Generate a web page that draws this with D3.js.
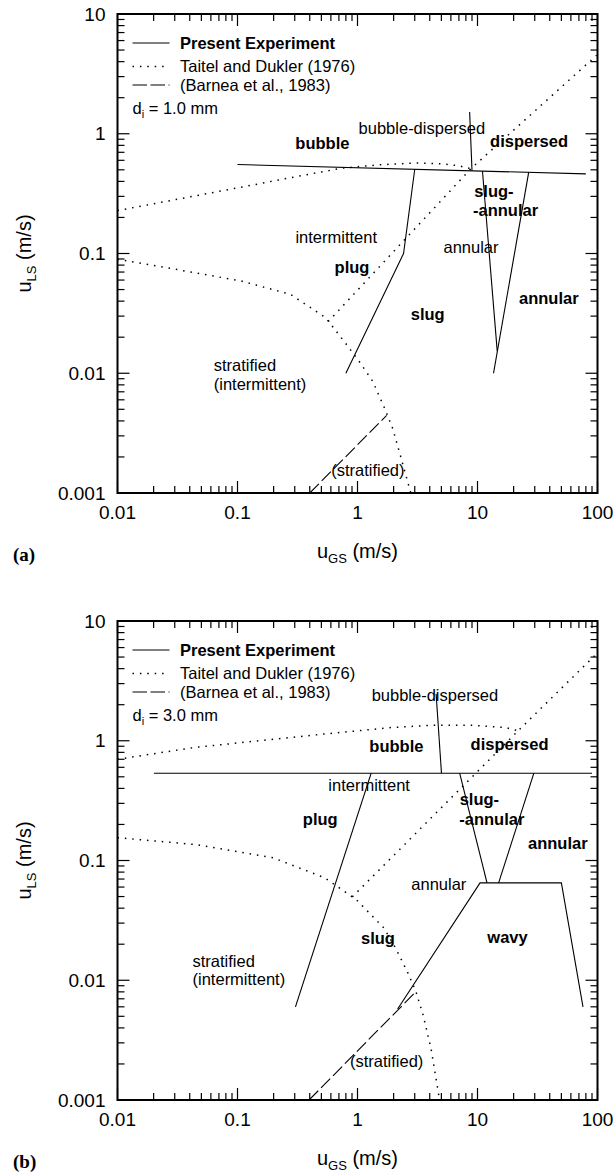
<!DOCTYPE html>
<html><head><meta charset="utf-8">
<script src="https://cdn.jsdelivr.net/npm/d3@7"></script>
<style>
body{margin:0;background:#fff}
svg{display:block}
text{font-family:"Liberation Sans",Arial,Helvetica,sans-serif;fill:#000}
</style>
</head><body>
<svg id="c" width="614" height="1174"></svg>
<script>
// ---------- shared tick labels / legend ----------
const xTickValues = [0.01, 0.1, 1, 10, 100];
const xTickLabels = ["0.01", "0.1", "1", "10", "100"];
const yTickValues = [0.001, 0.01, 0.1, 1, 10];
const yTickLabels = ["0.001", "0.01", "0.1", "1", "10"];
const legendItems = ["Present Experiment", "Taitel and Dukler (1976)", "(Barnea et al., 1983)"];
const panelTags = ["(a)", "(b)"];
const diameters = ["1.0", "3.0"];

// ---------- panel (a): d = 1.0 mm ----------
const presentA = [
  [[0.1, 0.553], [80, 0.462]],
  [[8.6, 1.52], [9.0, 0.492]],
  [[3.0, 0.505], [2.42, 0.1], [0.8, 0.01]],
  [[11.0, 0.488], [14.6, 0.0153]],
  [[26.7, 0.476], [13.6, 0.01]]
];
const taitelA = [
  [[0.01, 0.228], [0.03, 0.281], [0.1, 0.353], [0.3, 0.436], [0.73, 0.515], [1.5, 0.55], [3.08, 0.571], [5, 0.562], [7, 0.54], [8.8, 0.51]],
  [[0.57, 0.027], [8.8, 0.51], [98.5, 4.53]],
  [[0.01, 0.0897], [0.03, 0.074], [0.107, 0.059], [0.276, 0.0456], [0.543, 0.0291], [0.792, 0.0179], [1.03, 0.0126], [1.34, 0.00857], [1.68, 0.00512], [1.96, 0.00348], [2.27, 0.00208], [2.78, 0.001]]
];
const barneaA = [
  [[0.40, 0.001], [1.75, 0.00445]]
];
const labelsA = [
  ["bubble", 0.51, 0.835],
  ["bubble-dispersed", 3.44, 1.12],
  ["dispersed", 26.9, 0.868],
  ["slug-", 9.38, 0.331],
  ["-annular", 9.17, 0.228],
  ["intermittent", 0.665, 0.136],
  ["annular", 8.83, 0.112],
  ["plug", 0.90, 0.0773],
  ["annular ", 39.3, 0.0423],
  ["slug", 3.85, 0.0314],
  ["stratified", 0.0634, 0.0116],
  ["(intermittent)", 0.0634, 0.00814],
  ["(stratified)", 1.22, 0.00154]
];

// ---------- panel (b): d = 3.0 mm ----------
const presentB = [
  [[0.0201, 0.536], [90, 0.536]],
  [[4.52, 2.46], [5.01, 0.536]],
  [[1.30, 0.536], [0.304, 0.006]],
  [[7.10, 0.536], [12.0, 0.065]],
  [[29.5, 0.536], [15.0, 0.065]],
  [[2.16, 0.00575], [10.5, 0.065], [50, 0.065], [75.7, 0.006]]
];
const taitelB = [
  [[0.01, 0.70], [0.0445, 0.88], [0.2, 1.03], [0.535, 1.14], [1.93, 1.29], [4.42, 1.35], [8.7, 1.35], [17.1, 1.29], [21.8, 1.21]],
  [[0.905, 0.0497], [21.8, 1.21], [97, 5.26]],
  [[0.01, 0.155], [0.0445, 0.136], [0.2, 0.105], [0.535, 0.0716], [0.977, 0.0471], [1.66, 0.0273], [2.08, 0.0185], [2.60, 0.0118], [3.07, 0.00803], [3.52, 0.00512], [4.10, 0.00269], [4.83, 0.001]]
];
const barneaB = [
  [[0.395, 0.001], [3.07, 0.00803]]
];
const labelsB = [
  ["bubble-dispersed", 4.42, 2.38],
  ["bubble", 2.11, 0.908],
  ["dispersed", 18.5, 0.938],
  ["intermittent", 1.25, 0.425],
  ["slug-", 7.10, 0.324],
  ["-annular", 7.05, 0.223],
  ["plug", 0.489, 0.223],
  ["annular ", 46.7, 0.1406],
  ["annular", 4.76, 0.063],
  ["slug", 1.48, 0.0225],
  ["wavy", 17.8, 0.0228],
  ["stratified", 0.0422, 0.0145],
  ["(intermittent)", 0.0422, 0.0102],
  ["(stratified)", 1.75, 0.00211]
];

// ---------- drawing ----------
const svg = d3.select("#c");
const boldLabels = new Set(["bubble", "dispersed", "slug-", "-annular", "plug", "annular ", "slug", "wavy"]);
const startLabels = new Set(["slug-", "-annular", "stratified", "(intermittent)"]);
const DOT = "1.5,5.9", DASH = "13,4";

const panels = [
  {top: 14, bottom: 493, present: presentA, taitel: taitelA, barnea: barneaA, labels: labelsA},
  {top: 621, bottom: 1100, present: presentB, taitel: taitelB, barnea: barneaB, labels: labelsB}
];
const X0 = 117.5, X1 = 597.5;

panels.forEach((p, i) => {
  const x = d3.scaleLog().domain([0.01, 100]).range([X0, X1]);
  const y = d3.scaleLog().domain([0.001, 10]).range([p.bottom, p.top]);
  const g = svg.append("g");
  const clipId = "clip" + i;
  g.append("clipPath").attr("id", clipId).append("rect")
    .attr("x", X0).attr("y", p.top).attr("width", X1 - X0).attr("height", p.bottom - p.top);

  const line = d3.line().x(d => x(d[0])).y(d => y(d[1]));
  const data = g.append("g").attr("clip-path", `url(#${clipId})`).attr("fill", "none").attr("stroke", "#000");
  data.selectAll(".pe").data(p.present).join("path").attr("d", line).attr("stroke-width", 1.1);
  data.selectAll(".td").data(p.taitel).join("path").attr("d", line).attr("stroke-width", 1.5)
    .attr("stroke-dasharray", DOT);
  data.selectAll(".br").data(p.barnea).join("path").attr("d", line).attr("stroke-width", 1.1)
    .attr("stroke-dasharray", DASH);

  // ticks (inward on all four sides)
  const minorX = [], minorY = [];
  for (let e = -2; e < 2; e++) for (let m = 2; m <= 9; m++) minorX.push(m * Math.pow(10, e));
  for (let e = -3; e < 1; e++) for (let m = 2; m <= 9; m++) minorY.push(m * Math.pow(10, e));
  const tk = g.append("g").attr("stroke", "#000").attr("stroke-width", 1.2);
  const MJ = 12, MN = 7;
  xTickValues.forEach(v => {
    tk.append("line").attr("x1", x(v)).attr("x2", x(v)).attr("y1", p.bottom).attr("y2", p.bottom - MJ);
    tk.append("line").attr("x1", x(v)).attr("x2", x(v)).attr("y1", p.top).attr("y2", p.top + MJ);
  });
  minorX.forEach(v => {
    tk.append("line").attr("x1", x(v)).attr("x2", x(v)).attr("y1", p.bottom).attr("y2", p.bottom - MN);
    tk.append("line").attr("x1", x(v)).attr("x2", x(v)).attr("y1", p.top).attr("y2", p.top + MN);
  });
  yTickValues.forEach(v => {
    tk.append("line").attr("y1", y(v)).attr("y2", y(v)).attr("x1", X0).attr("x2", X0 + MJ);
    tk.append("line").attr("y1", y(v)).attr("y2", y(v)).attr("x1", X1).attr("x2", X1 - MJ);
  });
  minorY.forEach(v => {
    tk.append("line").attr("y1", y(v)).attr("y2", y(v)).attr("x1", X0).attr("x2", X0 + MN);
    tk.append("line").attr("y1", y(v)).attr("y2", y(v)).attr("x1", X1).attr("x2", X1 - MN);
  });

  // frame
  g.append("rect").attr("x", X0).attr("y", p.top).attr("width", X1 - X0).attr("height", p.bottom - p.top)
    .attr("fill", "none").attr("stroke", "#000").attr("stroke-width", 2);

  // tick labels
  xTickValues.forEach((v, k) => {
    g.append("text").attr("x", x(v)).attr("y", p.bottom + 26).attr("text-anchor", "middle")
      .attr("font-size", 19).text(xTickLabels[k]);
  });
  yTickValues.forEach((v, k) => {
    g.append("text").attr("x", X0 - 12).attr("y", y(v)).attr("dy", "0.35em").attr("text-anchor", "end")
      .attr("font-size", 19).text(yTickLabels[k]);
  });

  // axis titles
  const xt = g.append("text").attr("x", (X0 + X1) / 2).attr("y", p.bottom + 65)
    .attr("text-anchor", "middle").attr("font-size", 20);
  xt.append("tspan").text("u");
  xt.append("tspan").attr("font-size", 13).attr("dy", 5).text("GS");
  xt.append("tspan").attr("dy", -5).text(" (m/s)");

  const yc = (p.top + p.bottom) / 2;
  const yt = g.append("text").attr("transform", `translate(30.5,${yc}) rotate(-90)`)
    .attr("text-anchor", "middle").attr("font-size", 20);
  yt.append("tspan").text("u");
  yt.append("tspan").attr("font-size", 13).attr("dy", 5).text("LS");
  yt.append("tspan").attr("dy", -5).text(" (m/s)");

  // panel tag
  g.append("text").attr("x", 13).attr("y", p.bottom + 68)
    .style("font-family", '"Liberation Serif","Times New Roman",serif').attr("font-weight", "bold")
    .attr("font-size", 19).text(panelTags[i]);

  // legend
  const rows = [29, 52.5, 71];
  const styles = [null, DOT, "14.5,3.5"];
  legendItems.forEach((t, k) => {
    const yy = p.top + rows[k];
    g.append("line").attr("x1", 132.5).attr("x2", 169.5).attr("y1", yy).attr("y2", yy)
      .attr("stroke", "#000").attr("stroke-width", k === 1 ? 1.5 : 1.1)
      .attr("stroke-dasharray", styles[k]);
    g.append("text").attr("x", 180).attr("y", yy).attr("dy", "0.35em").attr("font-size", 16.5)
      .attr("font-weight", k === 0 ? "bold" : "normal").text(t);
  });
  const dt = g.append("text").attr("x", 132.5).attr("y", p.top + 94).attr("dy", "0.35em").attr("font-size", 16.5);
  dt.append("tspan").text("d");
  dt.append("tspan").attr("font-size", 11).attr("dy", 4).text("i");
  dt.append("tspan").attr("dy", -4).text(" = " + diameters[i] + " mm");

  // region labels
  p.labels.forEach(([t, vx, vy]) => {
    g.append("text").attr("x", x(vx)).attr("y", y(vy)).attr("dy", "0.35em")
      .attr("text-anchor", startLabels.has(t) ? "start" : "middle")
      .attr("font-size", 16.5).attr("font-weight", boldLabels.has(t) ? "bold" : "normal")
      .text(t.trim());
  });
});
</script>
</body></html>
